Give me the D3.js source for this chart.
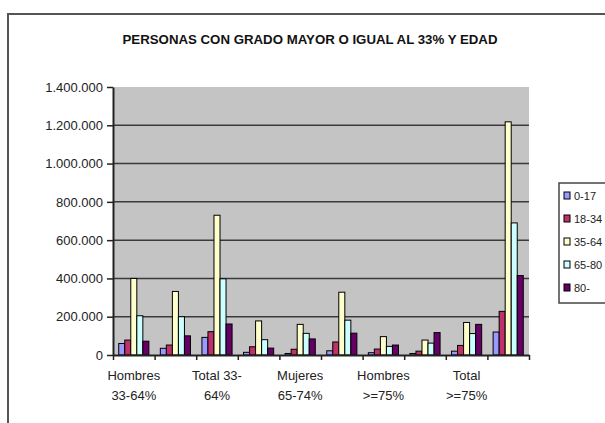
<!DOCTYPE html>
<html>
<head>
  <meta charset="utf-8">
  <title>Personas con grado mayor o igual al 33% y edad</title>
  <script src="https://d3js.org/d3.v7.min.js"></script>
  <style>
    body { margin: 0; background: #fff; }
    .title { font-family: "Liberation Sans Narrow", "Arial Narrow", "Liberation Sans", Arial, sans-serif; font-size: 13px; font-weight: bold; fill: #111; }
    .ylab { font-family: "Liberation Sans", Arial, sans-serif; font-size: 13px; fill: #222; text-anchor: end; }
    .xlab { font-family: "Liberation Sans", Arial, sans-serif; font-size: 13px; fill: #222; text-anchor: middle; }
    .leg { font-family: "Liberation Sans Narrow", "Liberation Sans", Arial, sans-serif; font-size: 11px; fill: #222; }
  </style>
</head>
<body>
  <script>
    // grupos (categorias del eje X)
    var categories = ["Hombres 33-64%", "Mujeres 33-64%", "Total 33-64%",
                      "Hombres 65-74%", "Mujeres 65-74%", "Total 65-74%",
                      "Hombres >=75%", "Mujeres >=75%", "Total >=75%", "Total"];
    // etiquetas visibles (una de cada dos)
    var tickLabels = [["Hombres", "33-64%"], null, ["Total 33-", "64%"], null,
                      ["Mujeres", "65-74%"], null, ["Hombres", ">=75%"], null,
                      ["Total", ">=75%"], null];
    var series = ["0-17", "18-34", "35-64", "65-80", "80-"];
    var colors = ["#9999FF", "#C0306A", "#FFFFCC", "#CCFFFF", "#660066"];

    // valores por serie, en el orden de categories
    var s0_17  = [60000, 35000, 92000, 14000, 8000, 22000, 12000, 8000, 20000, 120000];
    var s18_34 = [78000, 52000, 122000, 43000, 30000, 68000, 31000, 20000, 50000, 228000];
    var s35_64 = [400000, 332000, 730000, 178000, 160000, 328000, 96000, 78000, 170000, 1218000];
    var s65_80 = [205000, 200000, 398000, 80000, 113000, 182000, 45000, 62000, 112000, 690000];
    var s80    = [72000, 100000, 162000, 36000, 84000, 114000, 52000, 117000, 160000, 415000];
    var yTicks = [0, 200000, 400000, 600000, 800000, 1000000, 1200000, 1400000];

    var values = [s0_17, s18_34, s35_64, s65_80, s80];

    var W = 605, H = 423;
    var pL = 113, pR = 529, pT = 87, pB = 355;

    var svg = d3.select("body").append("svg")
        .attr("width", W)
        .attr("height", H);

    // marco del grafico
    svg.append("rect")
        .attr("x", 8).attr("y", 14)
        .attr("width", 640).attr("height", 440)
        .attr("fill", "#fff")
        .attr("stroke", "#555")
        .attr("stroke-width", 2);

    svg.append("text")
        .attr("class", "title")
        .attr("x", 310)
        .attr("y", 44)
        .attr("text-anchor", "middle")
        .attr("textLength", 375)
        .attr("lengthAdjust", "spacingAndGlyphs")
        .text("PERSONAS CON GRADO MAYOR O IGUAL AL 33% Y EDAD");

    var x0 = d3.scaleBand().domain(categories).range([pL, pR]).padding(0);
    var x1 = d3.scaleBand().domain(series).range([0, x0.bandwidth()])
        .paddingInner(0).paddingOuter(0.95);
    var y = d3.scaleLinear().domain([0, 1400000]).range([pB, pT]);

    var fmt = d3.formatLocale({decimal: ",", thousands: ".", grouping: [3], currency: ["", ""]}).format(",");

    // area de trazado
    svg.append("rect")
        .attr("x", pL).attr("y", pT)
        .attr("width", pR - pL).attr("height", pB - pT)
        .attr("fill", "#C4C4C4");

    // lineas de division
    svg.append("g")
      .selectAll("line")
      .data(yTicks.filter(function(d) { return d > 0 && d < 1400000; }))
      .join("line")
        .attr("x1", pL).attr("x2", pR)
        .attr("y1", function(d) { return y(d); })
        .attr("y2", function(d) { return y(d); })
        .attr("stroke", "#3a3a3a")
        .attr("stroke-width", 1.5);

    // barras
    var groups = svg.append("g")
      .selectAll("g")
      .data(categories)
      .join("g")
        .attr("transform", function(d) { return "translate(" + x0(d) + ",0)"; });

    groups.selectAll("rect")
      .data(function(d, i) {
        return series.map(function(s, j) { return {s: s, j: j, v: values[j][i]}; });
      })
      .join("rect")
        .attr("x", function(d) { return x1(d.s); })
        .attr("y", function(d) { return y(d.v); })
        .attr("width", x1.bandwidth())
        .attr("height", function(d) { return pB - y(d.v); })
        .attr("fill", function(d) { return colors[d.j]; })
        .attr("stroke", "#000")
        .attr("stroke-width", 1);

    // eje Y
    var yAxis = svg.append("g")
        .attr("transform", "translate(" + pL + ",0)")
        .call(d3.axisLeft(y).tickValues(yTicks).tickFormat(fmt).tickSize(6).tickSizeOuter(0).tickPadding(4));
    yAxis.select(".domain").attr("stroke", "#222").attr("stroke-width", 2);
    yAxis.selectAll(".tick line").attr("stroke", "#222").attr("stroke-width", 1.5);
    yAxis.selectAll(".tick text").attr("class", "ylab").attr("font-size", null).attr("font-family", null).attr("fill", null);

    // eje X: marcas entre grupos
    var xb = d3.scaleLinear().domain([0, categories.length]).range([pL, pR]);
    var xAxis = svg.append("g")
        .attr("transform", "translate(0," + pB + ")")
        .call(d3.axisBottom(xb).ticks(categories.length).tickFormat("").tickSize(5).tickSizeOuter(0));
    xAxis.select(".domain").attr("stroke", "#222").attr("stroke-width", 2);
    xAxis.selectAll(".tick line").attr("stroke", "#222").attr("stroke-width", 1.5);

    // etiquetas de categoria
    var lab = svg.append("g")
      .selectAll("text")
      .data(categories.map(function(c, i) { return {c: c, t: tickLabels[i]}; })
                      .filter(function(d) { return d.t; }))
      .join("text")
        .attr("class", "xlab")
        .attr("x", function(d) { return x0(d.c) + x0.bandwidth() / 2; })
        .attr("y", 380);
    lab.selectAll("tspan")
      .data(function(d) { return d.t; })
      .join("tspan")
        .attr("x", function() { return d3.select(this.parentNode).attr("x"); })
        .attr("dy", function(d, i) { return i === 0 ? 0 : 20; })
        .text(function(d) { return d; });

    // leyenda
    var legend = svg.append("g").attr("transform", "translate(559,183)");
    legend.append("rect")
        .attr("width", 70).attr("height", 120)
        .attr("fill", "#fff")
        .attr("stroke", "#444")
        .attr("stroke-width", 1.5);
    var item = legend.selectAll("g.item")
      .data(series)
      .join("g")
        .attr("class", "item")
        .attr("transform", function(d, i) { return "translate(5," + (14 + i * 23) + ")"; });
    item.append("rect")
        .attr("x", 0).attr("y", -5)
        .attr("width", 6).attr("height", 7)
        .attr("fill", function(d, i) { return colors[i]; })
        .attr("stroke", "#000");
    item.append("text")
        .attr("class", "leg")
        .attr("x", 10).attr("y", 3)
        .text(function(d) { return d; });
  </script>
</body>
</html>
